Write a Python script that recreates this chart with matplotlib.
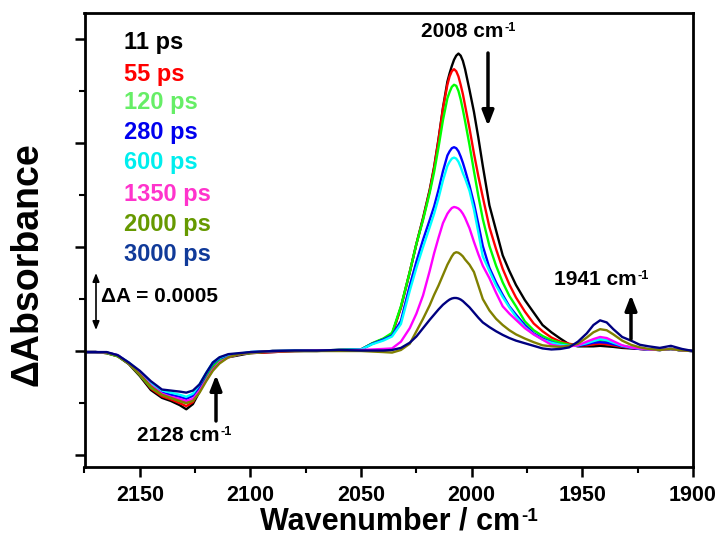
import matplotlib
matplotlib.use("Agg")
import matplotlib.pyplot as plt
from matplotlib.ticker import MultipleLocator

plt.rcParams['font.family'] = ['Liberation Sans', 'DejaVu Sans']
plt.rcParams['font.weight'] = 'bold'

# wavenumber grid (cm-1)
wn = [2175, 2170, 2165, 2160, 2155, 2150, 2145, 2140, 2136, 2132, 2129, 2126, 2123, 2120, 2117, 2114, 2110, 2105, 2100,
      2090, 2080, 2070, 2060, 2050,
      2045, 2040, 2036, 2032, 2028, 2025, 2022, 2019, 2017, 2015, 2013, 2011, 2010, 2009, 2008, 2007, 2006, 2005, 2004, 2003, 2001,
      1999, 1997, 1995, 1992, 1989, 1986, 1983, 1980, 1976, 1972, 1968, 1964, 1960, 1956, 1952, 1948,
      1945, 1942, 1939, 1936, 1932, 1928, 1924, 1920, 1915, 1910, 1905, 1900]

# delta absorbance in units of 1e-4
s11 = [-0.1, -0.1, -0.2, -0.5, -1.25, -2.4, -3.75, -4.5, -4.8, -5.2, -5.6, -5.1, -3.9, -2.6, -1.5, -1.0, -0.6, -0.4, -0.2,
       -0.1, 0.0, 0.0, 0.1, 0.15,
       0.7, 1.15, 1.6, 4.2, 7.6, 10.3, 12.8, 15.5, 17.7, 20.4, 23.4, 25.9, 26.7, 27.4, 28.0, 28.4, 28.6, 28.4, 27.9, 27.1, 25.1,
       23.0, 20.5, 17.8, 14.0, 11.6, 9.2, 7.7, 6.35, 4.9, 3.7, 2.5, 1.8, 1.2, 0.65, 0.45, 0.45,
       0.45, 0.5, 0.45, 0.4, 0.3, 0.25, 0.2, 0.15, 0.1, 0.2, 0.05, 0.0]
s55 = [-0.1, -0.1, -0.2, -0.5, -1.2, -2.3, -3.6, -4.35, -4.65, -5.0, -5.3, -4.9, -3.7, -2.5, -1.4, -0.9, -0.5, -0.3, -0.2,
       -0.1, 0.0, 0.05, 0.1, 0.15,
       0.7, 1.15, 1.6, 4.2, 7.6, 10.3, 12.7, 15.4, 17.6, 20.3, 23.3, 25.6, 26.4, 26.9, 27.1, 26.9, 26.4, 25.6, 24.7, 23.6, 21.4,
       19.0, 16.8, 14.8, 11.9, 9.8, 7.9, 6.4, 5.15, 3.8, 2.65, 1.9, 1.3, 0.9, 0.7, 0.55, 0.55,
       0.65, 0.7, 0.65, 0.55, 0.4, 0.3, 0.2, 0.15, 0.1, 0.2, 0.05, 0.0]
s120 = [-0.1, -0.1, -0.2, -0.5, -1.2, -2.3, -3.5, -4.2, -4.5, -4.8, -5.0, -4.7, -3.6, -2.4, -1.4, -0.9, -0.5, -0.3, -0.2,
        0.0, 0.0, 0.05, 0.1, 0.15,
        0.75, 1.2, 1.75, 4.3, 7.6, 10.3, 12.6, 15.2, 17.2, 19.6, 22.2, 24.3, 24.9, 25.4, 25.6, 25.5, 25.0, 24.2, 23.2, 22.1, 19.8,
        17.3, 14.9, 12.7, 10.1, 8.2, 6.6, 5.3, 4.3, 2.85, 2.0, 1.45, 1.05, 0.8, 0.6, 0.55, 0.75,
        0.95, 1.05, 0.95, 0.75, 0.5, 0.35, 0.25, 0.15, 0.1, 0.2, 0.05, 0.0]
s280 = [-0.1, -0.1, -0.15, -0.4, -1.15, -2.1, -3.2, -4.0, -4.2, -4.4, -4.6, -4.3, -3.4, -2.2, -1.2, -0.7, -0.4, -0.3, -0.1,
        0.0, 0.05, 0.05, 0.1, 0.15,
        0.7, 1.1, 1.5, 2.9, 6.3, 8.6, 10.7, 12.6, 13.9, 15.5, 17.3, 18.8, 19.2, 19.5, 19.6, 19.5, 19.2, 18.7, 18.1, 17.4, 15.9,
        14.2, 12.2, 10.1, 8.0, 6.6, 5.4, 4.3, 3.5, 2.5, 1.7, 1.2, 0.85, 0.6, 0.5, 0.5, 0.65,
        0.8, 0.85, 0.8, 0.65, 0.45, 0.3, 0.2, 0.15, 0.1, 0.2, 0.05, 0.0]
s600 = [-0.1, -0.1, -0.15, -0.4, -1.1, -2.0, -3.1, -3.8, -4.0, -4.2, -4.4, -4.1, -3.2, -2.1, -1.1, -0.65, -0.35, -0.25, -0.1,
        0.0, 0.05, 0.05, 0.1, 0.15,
        0.65, 1.0, 1.4, 2.6, 5.8, 8.0, 10.0, 11.9, 13.2, 14.7, 16.4, 17.8, 18.2, 18.5, 18.6, 18.5, 18.2, 17.7, 17.1, 16.6, 15.4,
        13.6, 11.4, 9.1, 7.7, 6.3, 5.2, 4.2, 3.3, 2.3, 1.6, 1.1, 0.8, 0.6, 0.5, 0.55, 0.75,
        0.95, 1.15, 1.05, 0.8, 0.5, 0.35, 0.25, 0.15, 0.1, 0.2, 0.05, 0.0]
s1350 = [-0.1, -0.1, -0.15, -0.4, -1.15, -2.2, -3.3, -4.1, -4.4, -4.6, -4.8, -4.6, -3.8, -2.8, -1.8, -1.1, -0.6, -0.3, -0.15,
         0.0, 0.0, 0.05, 0.05, 0.1,
         0.15, 0.2, 0.25, 0.9, 2.2, 3.6, 5.35, 7.7, 9.4, 10.9, 12.3, 13.2, 13.5, 13.75, 13.85, 13.8, 13.7, 13.5, 13.2, 12.8, 11.8,
         10.5, 9.3, 8.2, 7.0, 5.6, 4.3, 3.6, 3.0, 2.2, 1.6, 1.1, 0.6, 0.45, 0.45, 0.55, 0.9,
         1.15, 1.35, 1.25, 0.95, 0.55, 0.35, 0.25, 0.15, 0.1, 0.2, 0.05, 0.0]
s2000 = [-0.1, -0.1, -0.15, -0.45, -1.2, -2.25, -3.4, -4.2, -4.5, -4.8, -5.0, -4.8, -4.0, -2.9, -1.9, -1.2, -0.6, -0.3, -0.15,
         0.0, 0.0, 0.0, 0.0, 0.0,
         -0.05, -0.1, -0.15, 0.1, 0.7, 1.9, 3.1, 4.4, 5.4, 6.3, 7.3, 8.3, 8.7, 9.1, 9.4, 9.5, 9.45, 9.3, 9.1, 8.8, 8.3,
         7.6, 6.3, 5.0, 3.9, 3.1, 2.5, 2.0, 1.6, 1.2, 0.85, 0.55, 0.45, 0.4, 0.5, 0.7, 1.3,
         1.8, 2.1, 2.0, 1.6, 1.0, 0.6, 0.35, 0.2, 0.1, 0.2, 0.05, 0.0]
s3000 = [-0.1, -0.1, -0.1, -0.4, -1.1, -1.9, -2.9, -3.7, -3.8, -3.9, -4.0, -3.8, -3.2, -2.1, -1.1, -0.6, -0.3, -0.2, -0.1,
         0.0, 0.05, 0.05, 0.1, 0.05,
         0.05, 0.05, 0.1, 0.3, 0.8, 1.4, 2.2, 3.0, 3.5, 4.0, 4.45, 4.8, 4.95, 5.05, 5.1, 5.1, 5.05, 4.95, 4.8, 4.6, 4.2,
         3.7, 3.2, 2.75, 2.3, 1.9, 1.55, 1.25, 1.0, 0.75, 0.5, 0.25, 0.15, 0.2, 0.35, 0.9, 1.7,
         2.5, 2.95, 2.75, 2.1, 1.35, 1.0, 0.6, 0.45, 0.3, 0.5, 0.2, 0.0]

series = [s11, s55, s120, s280, s600, s1350, s2000, s3000]
labels = ['11 ps', '55 ps', '120 ps', '280 ps', '600 ps', '1350 ps', '2000 ps', '3000 ps']
line_colors = ['#000000', '#FF0000', '#00FF00', '#0000FF', '#00FFFF', '#FF00FF', '#808000', '#000080']
text_colors = ['#000000', '#FF0000', '#66EE66', '#0000EE', '#00EEEE', '#FF33CC', '#669900', '#103A99']

W, H = 718, 546
fig = plt.figure(figsize=(W / 100, H / 100), dpi=100)
ax = fig.add_axes([84.5 / W, 1 - 467 / H, (693 - 84.5) / W, (467 - 13) / H])

for s, c in zip(series, line_colors):
    ax.plot(wn, s, color=c, lw=1.7, solid_joinstyle='round')

ax.set_xlim(2175, 1900)
ax.set_ylim(-11.15, 32.5)
ax.xaxis.set_major_locator(MultipleLocator(50))
ax.xaxis.set_minor_locator(MultipleLocator(25))
ax.yaxis.set_major_locator(MultipleLocator(10))
ax.yaxis.set_minor_locator(MultipleLocator(5))
ax.tick_params(axis='both', which='major', direction='out', length=7, width=1.8, labelsize=15.5)
ax.tick_params(axis='both', which='minor', direction='out', length=4, width=1.5)
ax.tick_params(axis='y', which='both', labelleft=False)
ax.tick_params(axis='x', which='major', pad=6)
for lab in ax.get_xticklabels():
    lab.set_fontweight('bold')
for sp in ax.spines.values():
    sp.set_linewidth(2.0)


def fp(x, y):
    return (x / W, 1 - y / H)


def sup_text(x, y, base, sup, fs, ha='left', **kw):
    t = fig.text(*fp(x, y), base, fontsize=fs, ha=ha, va='baseline', fontweight='bold', **kw)
    fig.canvas.draw()
    bb = t.get_window_extent()
    cap = fs * 100 / 72 * 0.72
    fig.text((bb.x1 + 1) / W, (H - y + cap) / H, sup, fontsize=fs * 0.62,
             ha='left', va='top', fontweight='bold', **kw)
    return t


# axis labels
sup_text(390, 530, 'Wavenumber / cm', '-1', 22, ha='center')
fig.text(*fp(28, 264), '\u0394Absorbance', fontsize=27, fontweight='bold', rotation=90, ha='center', va='center')

# legend-like colored labels
ys = [43, 74, 103, 133, 163, 194, 224, 255]
for lab, c, y in zip(labels, text_colors, ys):
    fig.text(*fp(124, y), lab, color=c, fontsize=17, fontweight='bold', va='center', ha='left')

# annotations
sup_text(421, 37, '2008 cm', '-1', 15)
sup_text(554, 285, '1941 cm', '-1', 15)
sup_text(137, 441, '2128 cm', '-1', 15)
fig.text(*fp(101, 297), '\u0394A = 0.0005', fontsize=15, ha='left', va='center')

arrow = dict(arrowstyle='-|>,head_length=0.9,head_width=0.35', color='black', lw=2.5, shrinkA=0, shrinkB=0)
ax.annotate('', xy=fp(488, 126), xytext=fp(488, 53), xycoords='figure fraction', textcoords='figure fraction', arrowprops=arrow)
ax.annotate('', xy=fp(631, 295), xytext=fp(631, 339), xycoords='figure fraction', textcoords='figure fraction', arrowprops=arrow)
ax.annotate('', xy=fp(216, 375), xytext=fp(216, 421), xycoords='figure fraction', textcoords='figure fraction', arrowprops=arrow)
darrow = dict(arrowstyle='<|-|>,head_length=0.5,head_width=0.2', color='black', lw=1.2, shrinkA=0, shrinkB=0)
ax.annotate('', xy=fp(96, 273), xytext=fp(96, 330), xycoords='figure fraction', textcoords='figure fraction', arrowprops=darrow)

fig.savefig('out.png', dpi=100)
